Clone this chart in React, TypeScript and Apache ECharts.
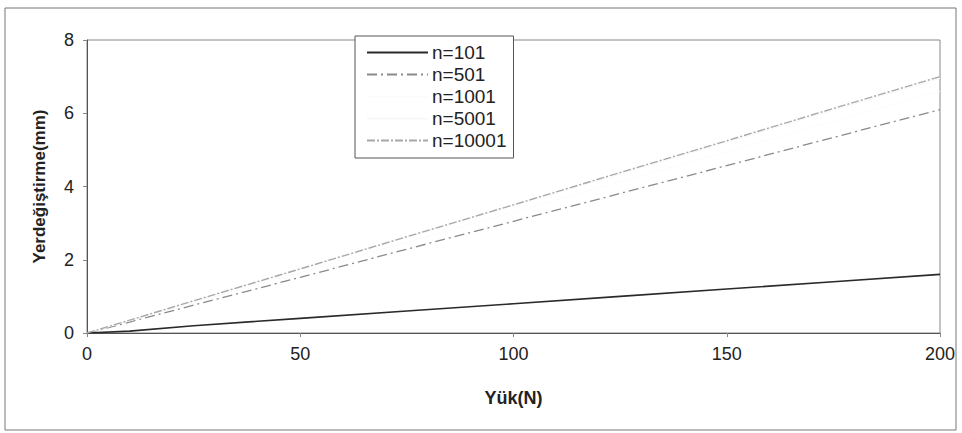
import React, { useEffect, useRef } from "react";
import * as echarts from "echarts";

const loads = [0, 10, 25, 50, 75, 100, 125, 150, 175, 200];
const n101 = [0, 0.05, 0.2, 0.4, 0.6, 0.8, 1.0, 1.2, 1.4, 1.6];
const n501 = [0, 0.3, 0.76, 1.52, 2.29, 3.05, 3.81, 4.57, 5.34, 6.1];
const n1001 = [0, 0.33, 0.83, 1.65, 2.48, 3.3, 4.13, 4.95, 5.78, 6.6];
const n5001 = [0, 0.35, 0.87, 1.74, 2.61, 3.48, 4.34, 5.21, 6.08, 6.95];
const n10001 = [0, 0.35, 0.88, 1.75, 2.63, 3.5, 4.38, 5.25, 6.13, 7.0];
const seriesNames = ["n=101", "n=501", "n=1001", "n=5001", "n=10001"];
const xTicks = { min: 0, max: 200, interval: 50 };
const yTicks = { min: 0, max: 8, interval: 2 };

const FONT = "'Liberation Sans', Arial, sans-serif";

export default function App() {
  const ref = useRef<HTMLDivElement>(null);
  useEffect(() => {
    document.body.style.margin = "0";
    const chart = echarts.init(ref.current!, undefined, { renderer: "svg" });
    const mk = (vals: number[]) => loads.map((x, i) => [x, vals[i]]);
    const styles = [
      { color: "#2a2a2a", width: 1.6, type: "solid" as any },
      { color: "#8a8a8a", width: 1.3, type: [10, 4, 2, 4] as any },
      { color: "#fbfbfb", width: 1, type: "solid" as any },
      { color: "#f8f8f8", width: 1, type: "solid" as any },
      { color: "#a8a8a8", width: 1.4, type: [8, 2, 2, 2] as any },
    ];
    const data = [n101, n501, n1001, n5001, n10001];
    chart.setOption({
      animation: false,
      textStyle: { fontFamily: FONT },
      grid: {
        left: 87,
        right: 22,
        top: 40,
        bottom: 100,
        show: true,
        borderColor: "#888",
        borderWidth: 1,
        backgroundColor: "transparent",
      },
      graphic: [
        {
          type: "rect",
          shape: { x: 5, y: 8, width: 951, height: 422 },
          style: { fill: "none", stroke: "#777", lineWidth: 1 },
          silent: true,
        },
      ],
      legend: {
        left: 355,
        top: 36,
        orient: "vertical",
        itemWidth: 61,
        itemHeight: 10,
        itemGap: 3,
        padding: [7, 7, 8, 11],
        borderColor: "#555",
        borderWidth: 1,
        backgroundColor: "#fff",
        itemStyle: { opacity: 0 },
        textStyle: { fontFamily: FONT, fontSize: 19, color: "#222", padding: [0, 0, 0, -1] },
        data: seriesNames,
      },
      xAxis: {
        type: "value",
        min: xTicks.min,
        max: xTicks.max,
        interval: xTicks.interval,
        name: "Yük(N)",
        nameLocation: "middle",
        nameGap: 56,
        nameTextStyle: { fontFamily: FONT, fontSize: 18, fontWeight: "bold", color: "#222" },
        axisLine: { lineStyle: { color: "#555" } },
        axisTick: { show: true, inside: false, length: 4, lineStyle: { color: "#888" } },
        axisLabel: { fontFamily: FONT, fontSize: 18, color: "#222", margin: 12 },
        splitLine: { show: false },
      },
      yAxis: {
        type: "value",
        min: yTicks.min,
        max: yTicks.max,
        interval: yTicks.interval,
        name: "Yerdeğiştirme(mm)",
        nameLocation: "middle",
        nameGap: 39,
        nameTextStyle: { fontFamily: FONT, fontSize: 17, fontWeight: "bold", color: "#222" },
        axisLine: { show: true, lineStyle: { color: "#555" } },
        axisTick: { show: true, inside: false, length: 4, lineStyle: { color: "#888" } },
        axisLabel: { fontFamily: FONT, fontSize: 18, color: "#222", margin: 13 },
        splitLine: { show: false },
      },
      series: seriesNames.map((name, i) => ({
        name,
        type: "line",
        data: mk(data[i]),
        showSymbol: false,
        symbol: "none",
        lineStyle: styles[i],
        itemStyle: { color: styles[i].color },
        z: i === 4 ? 5 : 2 + (i === 0 ? 3 : 0),
      })),
    });
    return () => chart.dispose();
  }, []);
  return <div ref={ref} style={{ width: 962, height: 433, position: "absolute", left: 0, top: 0 }} />;
}
